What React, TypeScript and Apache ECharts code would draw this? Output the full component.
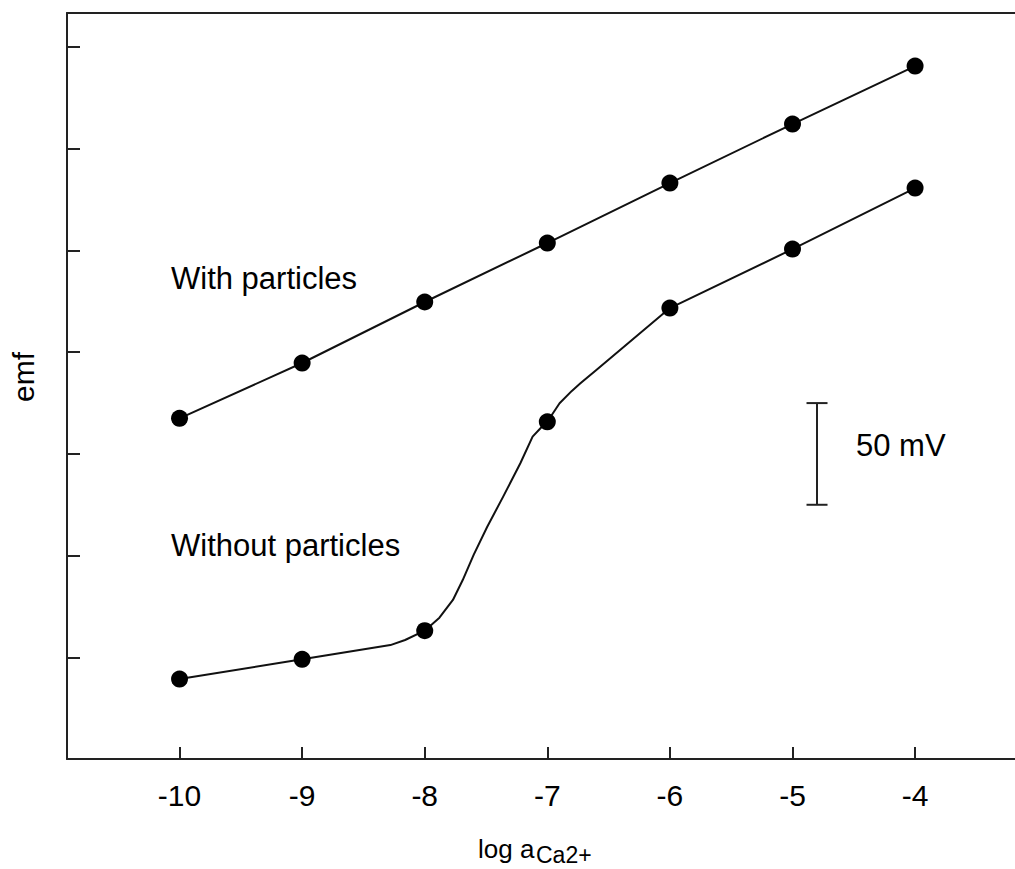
import React, { useEffect, useRef } from "react";
import * as echarts from "echarts";

const FONT = "'Liberation Sans', Arial, Helvetica, sans-serif";

// log a(Ca2+) tick positions
const xTicks = [-10, -9, -8, -7, -6, -5, -4];
// emf relative scale in mV (50 mV per tick)
const yTicks = [0, 50, 100, 150, 200, 250, 300, 350];

// With particles (measured points)
const withX = [-10, -9, -8, -7, -6, -5, -4];
const withY = [167.5, 194.7, 224.7, 253.7, 283.2, 312.2, 340.7];

// Without particles (measured points)
const withoutX = [-10, -9, -8, -7, -6, -5, -4];
const withoutY = [39.3, 49.0, 63.1, 165.8, 221.7, 250.7, 280.7];

// Without particles: drawn curve
const curveX = [-10, -9, -8.28, -8.16, -8, -7.88, -7.77, -7.69, -7.6, -7.49, -7.36, -7.22, -7.12, -7.05, -7, -6.9, -6.8, -6.73, -6.6, -6, -5, -4];
const curveY = [39.3, 49.0, 56.0, 58.5, 63.1, 69.5, 78.2, 88.0, 100.5, 114.2, 129.0, 145.4, 158.5, 163.0, 165.8, 174.9, 181.0, 184.7, 191.3, 221.7, 250.7, 280.7];

// 50 mV scale bar: x position, y from, y to
const scaleBarX = [-4.8];
const scaleBarFrom = [125];
const scaleBarTo = [175];
const scaleBarLabel = "50 mV";

const labelWith = "With particles";
const labelWithout = "Without particles";

export default function App() {
  const ref = useRef<HTMLDivElement>(null);

  useEffect(() => {
    if (!ref.current) return;
    const chart = echarts.init(ref.current, undefined, { renderer: "svg" });
    const axisColor = "#222";
    const option: any = {
      animation: false,
      backgroundColor: "#fff",
      grid: { left: 67, right: 0, top: 13, bottom: 110, containLabel: false },
      xAxis: [
        {
          type: "value",
          position: "bottom",
          min: -10.918,
          max: -3.185,
          axisLine: { show: true, onZero: false, lineStyle: { color: axisColor, width: 2 } },
          axisTick: {
            show: true,
            inside: true,
            length: 12,
            customValues: xTicks,
            lineStyle: { color: axisColor, width: 2 },
          },
          axisLabel: {
            show: true,
            customValues: xTicks,
            fontSize: 30,
            lineHeight: 30,
            margin: 21,
            color: "#000",
            fontFamily: FONT,
          },
          splitLine: { show: false },
        },
        {
          type: "value",
          position: "top",
          min: -10.918,
          max: -3.185,
          axisLine: { show: true, onZero: false, lineStyle: { color: axisColor, width: 2 } },
          axisTick: { show: false },
          axisLabel: { show: false },
          splitLine: { show: false },
        },
      ],
      yAxis: {
        type: "value",
        min: 0,
        max: 366.8,
        axisLine: { show: true, onZero: false, lineStyle: { color: axisColor, width: 2 } },
        axisTick: {
          show: true,
          inside: true,
          length: 13,
          customValues: yTicks,
          lineStyle: { color: axisColor, width: 2 },
        },
        axisLabel: { show: false },
        splitLine: { show: false },
      },
      series: [
        {
          name: labelWith,
          type: "line",
          data: withX.map((x, i) => [x, withY[i]]),
          symbol: "circle",
          symbolSize: 17,
          itemStyle: { color: "#000", opacity: 1 },
          lineStyle: { color: "#111", width: 2 },
          z: 3,
        },
        {
          name: labelWithout + " curve",
          type: "line",
          data: curveX.map((x, i) => [x, curveY[i]]),
          showSymbol: false,
          symbol: "none",
          smooth: false,
          lineStyle: { color: "#111", width: 2, join: "round" },
          z: 2,
        },
        {
          name: labelWithout,
          type: "scatter",
          data: withoutX.map((x, i) => [x, withoutY[i]]),
          symbol: "circle",
          symbolSize: 17,
          itemStyle: { color: "#000", opacity: 1 },
          z: 4,
        },
        {
          name: "scale bar",
          type: "custom",
          data: scaleBarX.map((x, i) => [x, scaleBarFrom[i], scaleBarTo[i]]),
          encode: { x: 0, y: [1, 2] },
          renderItem: (params: any, api: any) => {
            const x = api.value(0);
            const p0 = api.coord([x, api.value(1)]);
            const p1 = api.coord([x, api.value(2)]);
            const st = { stroke: axisColor, lineWidth: 2 };
            return {
              type: "group",
              children: [
                { type: "line", shape: { x1: p0[0], y1: p0[1], x2: p1[0], y2: p1[1] }, style: st },
                { type: "line", shape: { x1: p0[0] - 10.5, y1: p0[1], x2: p0[0] + 10.5, y2: p0[1] }, style: st },
                { type: "line", shape: { x1: p1[0] - 10.5, y1: p1[1], x2: p1[0] + 10.5, y2: p1[1] }, style: st },
                {
                  type: "text",
                  x: p0[0] + 39,
                  y: (p0[1] + p1[1]) / 2 - 8,
                  style: {
                    text: scaleBarLabel,
                    fontSize: 31,
                    fontFamily: FONT,
                    fill: "#000",
                    align: "left",
                    verticalAlign: "middle",
                  },
                },
              ],
            };
          },
          z: 3,
        },
      ],
      graphic: [
        {
          type: "text",
          x: 171,
          y: 278,
          style: { text: labelWith, fontSize: 31, fontFamily: FONT, fill: "#000", align: "left", verticalAlign: "middle" },
        },
        {
          type: "text",
          x: 171,
          y: 545.5,
          style: { text: labelWithout, fontSize: 31, fontFamily: FONT, fill: "#000", align: "left", verticalAlign: "middle" },
        },
        {
          type: "text",
          x: 23,
          y: 377,
          rotation: Math.PI / 2,
          style: { text: "emf", fontSize: 30, fontFamily: FONT, fill: "#000", align: "center", verticalAlign: "middle" },
        },
        {
          type: "text",
          x: 478,
          y: 849,
          style: { text: "log a", fontSize: 26, fontFamily: FONT, fill: "#000", align: "left", verticalAlign: "middle" },
        },
        {
          type: "text",
          x: 536,
          y: 855,
          style: { text: "Ca2+", fontSize: 23, fontFamily: FONT, fill: "#000", align: "left", verticalAlign: "middle" },
        },
      ],
    };
    chart.setOption(option);
    return () => chart.dispose();
  }, []);

  return (
    <div
      ref={ref}
      style={{ position: "fixed", left: 0, top: 0, width: 1015, height: 869, background: "#fff" }}
    />
  );
}
